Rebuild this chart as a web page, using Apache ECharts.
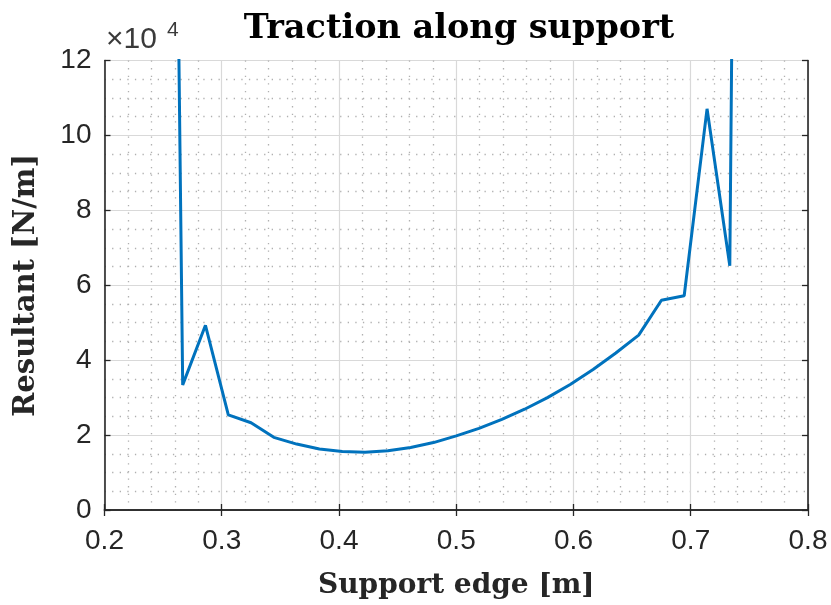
<!DOCTYPE html>
<html>
<head>
<meta charset="utf-8">
<title>Traction along support</title>
<script src="https://cdn.jsdelivr.net/npm/echarts@6/dist/echarts.min.js"></script>
<style>
  html, body { margin: 0; padding: 0; background: #ffffff; }
  #chart { width: 831px; height: 605px; }
</style>
</head>
<body>
<div id="chart"></div>
<script>
// Position along the support edge [m]
const supportEdge = [
  0.2472, 0.2667, 0.2861, 0.3056, 0.3250, 0.3444, 0.3639, 0.3833, 0.4028,
  0.4222, 0.4417, 0.4611, 0.4806, 0.5000, 0.5194, 0.5389, 0.5583, 0.5778,
  0.5972, 0.6167, 0.6361, 0.6556, 0.6750, 0.6944, 0.7139, 0.7333, 0.7528
];
// Resultant traction at each position [N/m]
const resultant = [
  560000, 33400, 49300, 25400, 23300, 19400, 17600, 16300, 15600,
  15400, 15800, 16700, 18000, 19800, 21800, 24200, 26900, 30000,
  33500, 37500, 41900, 46700, 56000, 57200, 107100, 65200, 750000
];
// Axis ranges and tick spacing
const xRange = [0.2, 0.8];
const xStep = 0.1;
const yRange = [0, 120000];
const yStep = 20000;
const yScale = 1e4;

const points = supportEdge.map((x, i) => [x, resultant[i]]);

const axisColor = '#262626';
const tickFont = 'Liberation Sans, Arial, Helvetica, sans-serif';
const texFont = 'DejaVu Serif, serif';

const chart = echarts.init(document.getElementById('chart'), null, { renderer: 'canvas' });

const boxAxisLine = { show: true, lineStyle: { color: axisColor, width: 1.6 } };
const innerTicks = { show: true, inside: true, length: 6, lineStyle: { color: axisColor, width: 1.3 } };
const majorGrid = { show: true, lineStyle: { color: '#d9d9d9', width: 1.2 } };
const minorGrid = { show: true, lineStyle: { color: '#b0b0b0', width: 1.3, type: [1.3, 6.3] } };

chart.setOption({
  backgroundColor: '#ffffff',
  animation: false,
  title: {
    text: 'Traction along support',
    left: 454,
    textAlign: 'center',
    top: 7,
    textStyle: { fontFamily: texFont, fontWeight: 'bold', fontSize: 33.5, color: '#000000' }
  },
  grid: { left: 104.5, right: 23, top: 60.5, bottom: 92, containLabel: false },
  xAxis: [
    {
      type: 'value', position: 'bottom',
      min: xRange[0], max: xRange[1], interval: xStep,
      name: 'Support edge [m]', nameLocation: 'middle', nameGap: 62,
      nameTextStyle: { fontFamily: texFont, fontWeight: 'bold', fontSize: 28, color: axisColor },
      axisLine: boxAxisLine, axisTick: innerTicks,
      axisLabel: { margin: 17, fontFamily: tickFont, fontSize: 28, color: axisColor,
                   formatter: v => v.toFixed(1) },
      splitLine: majorGrid,
      minorTick: { show: false, splitNumber: 5 },
      minorSplitLine: minorGrid
    },
    {
      type: 'value', position: 'top',
      min: xRange[0], max: xRange[1], interval: xStep,
      axisLine: boxAxisLine, axisTick: innerTicks,
      axisLabel: { show: false }, splitLine: { show: false }
    }
  ],
  yAxis: [
    {
      type: 'value', position: 'left',
      min: yRange[0], max: yRange[1], interval: yStep,
      name: 'Resultant [N/m]', nameLocation: 'middle', nameGap: 64,
      nameTextStyle: { fontFamily: texFont, fontWeight: 'bold', fontSize: 29, color: axisColor },
      axisLine: boxAxisLine, axisTick: innerTicks,
      axisLabel: { margin: 13, fontFamily: tickFont, fontSize: 28, color: axisColor,
                   formatter: v => String(Math.round(v / yScale)) },
      splitLine: majorGrid,
      minorTick: { show: false, splitNumber: 4 },
      minorSplitLine: minorGrid
    },
    {
      type: 'value', position: 'right',
      min: yRange[0], max: yRange[1], interval: yStep,
      axisLine: boxAxisLine, axisTick: innerTicks,
      axisLabel: { show: false }, splitLine: { show: false }
    }
  ],
  graphic: [
    {
      type: 'text', left: 106, top: 25, silent: true,
      style: { text: '×10', font: '30px ' + tickFont, fill: '#3a3a3a' }
    },
    {
      type: 'text', left: 167, top: 20, silent: true,
      style: { text: '4', font: '21px ' + tickFont, fill: '#3a3a3a' }
    }
  ],
  series: [
    {
      type: 'line',
      xAxisIndex: 0, yAxisIndex: 0,
      data: points,
      showSymbol: false,
      clip: true,
      lineStyle: { color: '#0072BD', width: 3 },
      z: 5
    }
  ]
});
</script>
</body>
</html>
